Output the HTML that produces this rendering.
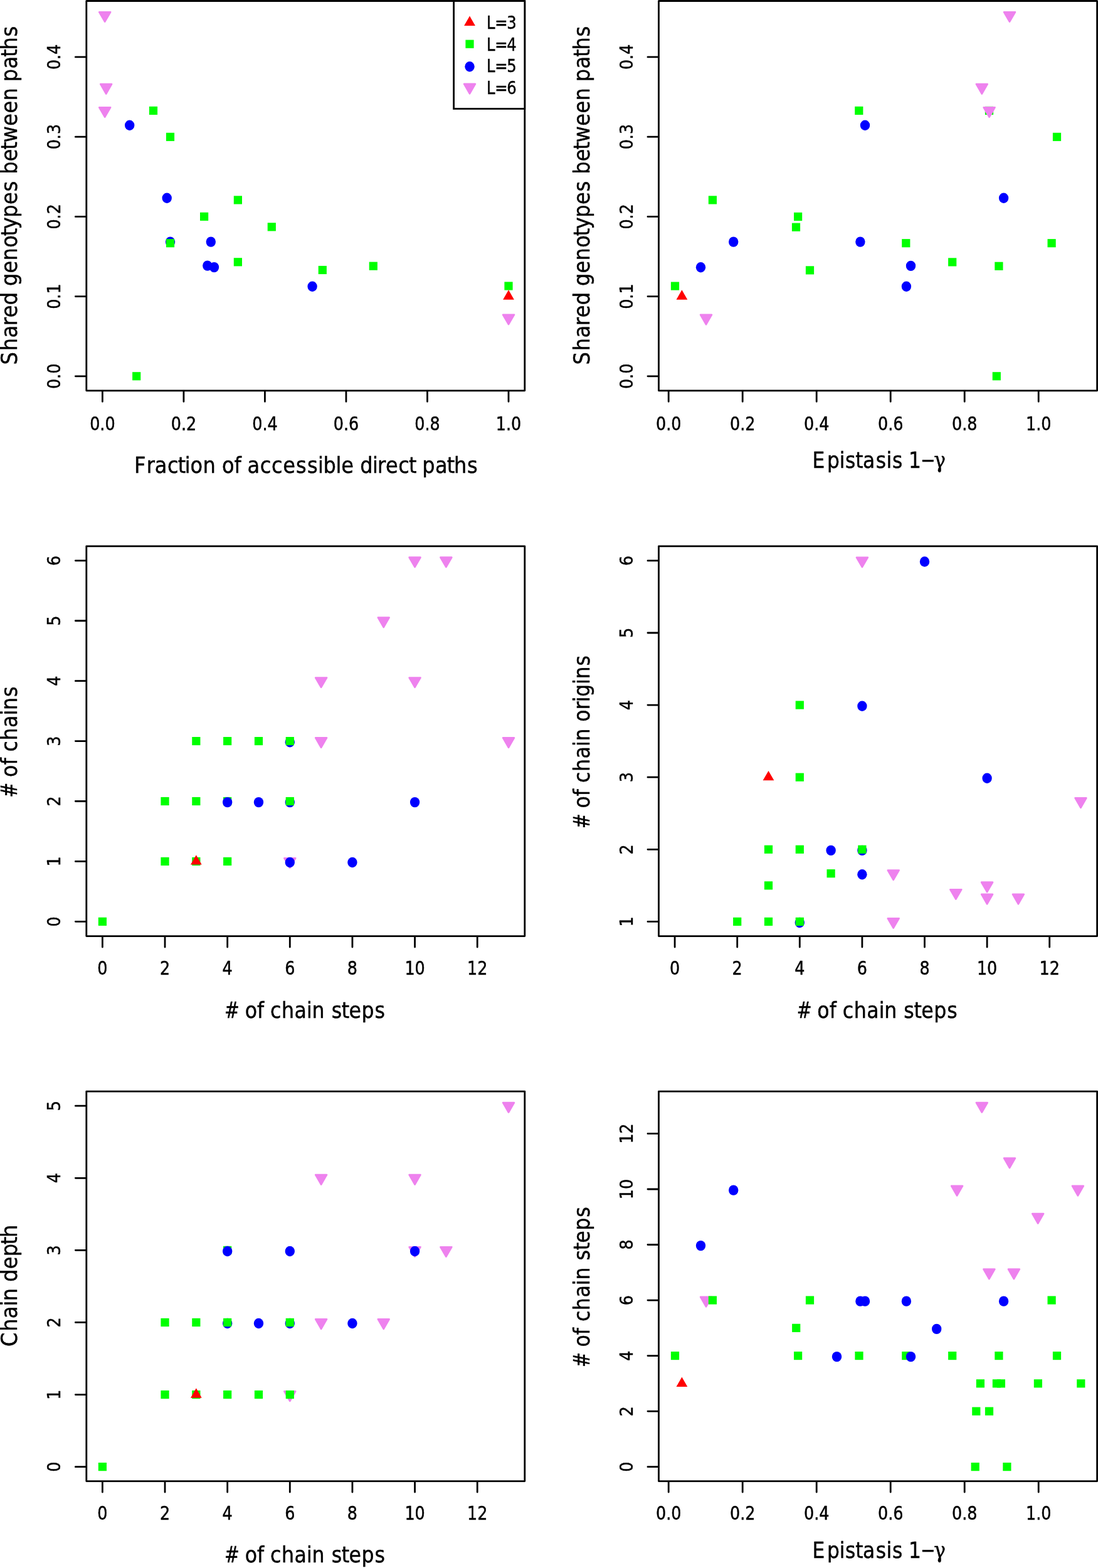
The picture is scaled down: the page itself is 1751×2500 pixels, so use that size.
<!DOCTYPE html>
<html lang="en">
<head>
<meta charset="utf-8">
<title>Figure</title>
<style>
html,body{margin:0;padding:0;background:#fff;}
body{width:1751px;height:2500px;overflow:hidden;}
svg{display:block;}
text{font-family:"DejaVu Sans","Liberation Sans",sans-serif;fill:#000;stroke:#000;stroke-width:0.5px;stroke-linejoin:round;}
.g{font-family:"DejaVu Serif","Liberation Serif",serif;}
.c{font-family:"DejaVu Sans Condensed","DejaVu Sans","Liberation Sans",sans-serif;font-stretch:condensed;}
.ln{fill:none;stroke:#000;stroke-width:2.8;stroke-linecap:round;stroke-linejoin:round;}
.lg{fill:#fff;stroke:#000;stroke-width:2.8;}
.g4{fill:#00ff00;}
.b5{fill:#0000ff;}
.r3{fill:#ff0000;}
.v6{fill:#ee82ee;stroke:#ee82ee;stroke-width:2.7;stroke-linejoin:round;}
</style>
</head>
<body>
<svg width="1751" height="2500" viewBox="0 0 1751 2500">
<rect x="0" y="0" width="1751" height="2500" fill="#fff"/>
<g>
<polygon class="v6" points="167.2,34.66 176.09,19.27 158.31,19.27"/>
<polygon class="v6" points="169.2,149.56 178.09,134.17 160.31,134.17"/>
<polygon class="v6" points="167.2,186.66 176.09,171.27 158.31,171.27"/>
<ellipse class="b5" cx="206.7" cy="199.8" rx="7.7" ry="8.2"/>
<ellipse class="b5" cx="266.2" cy="315.7" rx="7.7" ry="8.2"/>
<ellipse class="b5" cx="271.5" cy="385.6" rx="7.7" ry="8.2"/>
<ellipse class="b5" cx="336.3" cy="385.6" rx="7.7" ry="8.2"/>
<ellipse class="b5" cx="498.1" cy="456.7" rx="7.7" ry="8.2"/>
<ellipse class="b5" cx="330.8" cy="423.6" rx="7.7" ry="8.2"/>
<ellipse class="b5" cx="341.5" cy="426.1" rx="7.7" ry="8.2"/>
<rect class="g4" x="237.9" y="169.8" width="13.2" height="13.2"/>
<rect class="g4" x="264.9" y="211.7" width="13.2" height="13.2"/>
<rect class="g4" x="372.8" y="312.3" width="13.2" height="13.2"/>
<rect class="g4" x="319" y="338.7" width="13.2" height="13.2"/>
<rect class="g4" x="264.9" y="381.1" width="13.2" height="13.2"/>
<rect class="g4" x="426.7" y="355.2" width="13.2" height="13.2"/>
<rect class="g4" x="507.7" y="423.9" width="13.2" height="13.2"/>
<rect class="g4" x="588.7" y="417.6" width="13.2" height="13.2"/>
<rect class="g4" x="804.4" y="449.4" width="13.2" height="13.2"/>
<rect class="g4" x="211.1" y="593.2" width="13.2" height="13.2"/>
<rect class="g4" x="372.8" y="411.2" width="13.2" height="13.2"/>
<polygon class="r3" points="811,462.24 819.89,477.63 802.11,477.63"/>
<polygon class="v6" points="811,517.16 819.89,501.77 802.11,501.77"/>
<path class="ln" d="M163.4 624.25V640.35M292.92 624.25V640.35M422.44 624.25V640.35M551.96 624.25V640.35M681.48 624.25V640.35M811 624.25V640.35M136.4 599.86H120.3M136.4 472.62H120.3M136.4 345.38H120.3M136.4 218.14H120.3M136.4 90.9H120.3"/>
<path class="ln" d="M137.8 1.55H836.8V622.85H137.8Z"/>
<rect x="137.8" y="0" width="699" height="1.5"/>
<text transform="translate(163.4 685.85) scale(0.8741 1.04)" font-size="29.1" x="-23.14 -4.63 4.63" y="0">0.0</text>
<text transform="translate(292.92 685.85) scale(0.8741 1.04)" font-size="29.1" x="-23.14 -4.63 4.63" y="0">0.2</text>
<text transform="translate(422.44 685.85) scale(0.8741 1.04)" font-size="29.1" x="-23.14 -4.63 4.63" y="0">0.4</text>
<text transform="translate(551.96 685.85) scale(0.8741 1.04)" font-size="29.1" x="-23.14 -4.63 4.63" y="0">0.6</text>
<text transform="translate(681.48 685.85) scale(0.8741 1.04)" font-size="29.1" x="-23.14 -4.63 4.63" y="0">0.8</text>
<text transform="translate(811 685.85) scale(0.8741 1.04)" font-size="29.1" x="-23.14 -4.63 4.63" y="0">1.0</text>
<text transform="translate(96.25 599.86) rotate(-90) scale(0.8741 1)" font-size="29.1" x="-23.14 -4.63 4.63" y="0">0.0</text>
<text transform="translate(96.25 472.62) rotate(-90) scale(0.8741 1)" font-size="29.1" x="-23.14 -4.63 4.63" y="0">0.1</text>
<text transform="translate(96.25 345.38) rotate(-90) scale(0.8741 1)" font-size="29.1" x="-23.14 -4.63 4.63" y="0">0.2</text>
<text transform="translate(96.25 218.14) rotate(-90) scale(0.8741 1)" font-size="29.1" x="-23.14 -4.63 4.63" y="0">0.3</text>
<text transform="translate(96.25 90.9) rotate(-90) scale(0.8741 1)" font-size="29.1" x="-23.14 -4.63 4.63" y="0">0.4</text>
<text transform="translate(487.3 753.85) scale(0.8794 0.975)" font-size="36.4" x="-310.71 -288.19 -273.46 -250.46 -231.49 -219.06 -209.03 -186.41 -163.4 -151.49 -129.5 -117.38 -105.49 -82.48 -61.79 -41.12 -17.55 3.15 22.52 32.13 54.74 64.7 87.38 98.87 121.47 130.54 145.22 168.27 187.24 200.09 211.59 235.01 256.28 269.14 293.05" y="0">Fraction of accessible direct paths</text>
<text transform="translate(27 312.2) rotate(-90) scale(0.8816 0.96)" font-size="36.4" x="-305.38 -280.11 -256.77 -234.74 -220.1 -197.49 -174.51 -163.06 -139.74 -117.12 -93.75 -72.54 -60.11 -39.09 -15.77 7.74 27.5 38.95 62.27 83.55 96.44 126.52 149.48 172.11 195.07 206.52 229.89 251.12 263.94 287.79" y="0">Shared genotypes between paths</text>
</g>
<g>
<rect class="lg" x="723.6" y="1.55" width="113.2" height="171.85"/>
<polygon class="r3" points="749,25.54 757.89,40.93 740.11,40.93"/>
<text transform="translate(774.7 46.4) scale(0.8351 1)" font-size="29.1" x="1.58 17.36 40.16" y="0">L=3</text>
<rect class="g4" x="742.4" y="63.6" width="13.2" height="13.2"/>
<text transform="translate(774.7 80.8) scale(0.8351 1)" font-size="29.1" x="1.58 17.36 40.16" y="0">L=4</text>
<ellipse class="b5" cx="749" cy="106.2" rx="7.7" ry="8.2"/>
<text transform="translate(774.7 115.2) scale(0.8351 1)" font-size="29.1" x="1.58 17.36 40.16" y="0">L=5</text>
<polygon class="v6" points="749,149.26 757.89,133.87 740.11,133.87"/>
<text transform="translate(774.7 149.6) scale(0.8351 1)" font-size="29.1" x="1.58 17.36 40.16" y="0">L=6</text>
</g>
<g>
<rect class="g4" x="1363.2" y="169.8" width="13.2" height="13.2"/>
<rect class="g4" x="1129.8" y="312.3" width="13.2" height="13.2"/>
<rect class="g4" x="1266" y="338.8" width="13.2" height="13.2"/>
<rect class="g4" x="1262.9" y="355.6" width="13.2" height="13.2"/>
<rect class="g4" x="1438.2" y="381.1" width="13.2" height="13.2"/>
<rect class="g4" x="1670.5" y="381.1" width="13.2" height="13.2"/>
<rect class="g4" x="1678.9" y="211.7" width="13.2" height="13.2"/>
<rect class="g4" x="1570.9" y="169.8" width="13.2" height="13.2"/>
<rect class="g4" x="1069.9" y="449.5" width="13.2" height="13.2"/>
<rect class="g4" x="1284.9" y="424.3" width="13.2" height="13.2"/>
<rect class="g4" x="1512.1" y="411.3" width="13.2" height="13.2"/>
<rect class="g4" x="1586.3" y="417.7" width="13.2" height="13.2"/>
<rect class="g4" x="1582.7" y="593.2" width="13.2" height="13.2"/>
<ellipse class="b5" cx="1379.5" cy="199.8" rx="7.7" ry="8.2"/>
<ellipse class="b5" cx="1169.7" cy="385.6" rx="7.7" ry="8.2"/>
<ellipse class="b5" cx="1371.9" cy="385.6" rx="7.7" ry="8.2"/>
<ellipse class="b5" cx="1600.6" cy="315.7" rx="7.7" ry="8.2"/>
<ellipse class="b5" cx="1117.5" cy="426.3" rx="7.7" ry="8.2"/>
<ellipse class="b5" cx="1452.5" cy="423.9" rx="7.7" ry="8.2"/>
<ellipse class="b5" cx="1445.4" cy="456.7" rx="7.7" ry="8.2"/>
<polygon class="r3" points="1087.4,462.34 1096.29,477.73 1078.51,477.73"/>
<polygon class="v6" points="1610,34.66 1618.89,19.27 1601.11,19.27"/>
<polygon class="v6" points="1565.8,149.56 1574.69,134.17 1556.91,134.17"/>
<polygon class="v6" points="1577.6,186.66 1586.49,171.27 1568.71,171.27"/>
<polygon class="v6" points="1126,517.26 1134.89,501.87 1117.11,501.87"/>
<path class="ln" d="M1066.2 624.25V640.35M1184.2 624.25V640.35M1302.2 624.25V640.35M1420.2 624.25V640.35M1538.2 624.25V640.35M1656.2 624.25V640.35M1049.06 599.86H1032.96M1049.06 472.62H1032.96M1049.06 345.38H1032.96M1049.06 218.14H1032.96M1049.06 90.9H1032.96"/>
<path class="ln" d="M1050.46 1.55H1749.6V622.85H1050.46Z"/>
<rect x="1050.46" y="0" width="699.14" height="1.5"/>
<text transform="translate(1066.2 685.85) scale(0.8741 1.04)" font-size="29.1" x="-23.14 -4.63 4.63" y="0">0.0</text>
<text transform="translate(1184.2 685.85) scale(0.8741 1.04)" font-size="29.1" x="-23.14 -4.63 4.63" y="0">0.2</text>
<text transform="translate(1302.2 685.85) scale(0.8741 1.04)" font-size="29.1" x="-23.14 -4.63 4.63" y="0">0.4</text>
<text transform="translate(1420.2 685.85) scale(0.8741 1.04)" font-size="29.1" x="-23.14 -4.63 4.63" y="0">0.6</text>
<text transform="translate(1538.2 685.85) scale(0.8741 1.04)" font-size="29.1" x="-23.14 -4.63 4.63" y="0">0.8</text>
<text transform="translate(1656.2 685.85) scale(0.8741 1.04)" font-size="29.1" x="-23.14 -4.63 4.63" y="0">1.0</text>
<text transform="translate(1008.71 599.86) rotate(-90) scale(0.8741 1)" font-size="29.1" x="-23.14 -4.63 4.63" y="0">0.0</text>
<text transform="translate(1008.71 472.62) rotate(-90) scale(0.8741 1)" font-size="29.1" x="-23.14 -4.63 4.63" y="0">0.1</text>
<text transform="translate(1008.71 345.38) rotate(-90) scale(0.8741 1)" font-size="29.1" x="-23.14 -4.63 4.63" y="0">0.2</text>
<text transform="translate(1008.71 218.14) rotate(-90) scale(0.8741 1)" font-size="29.1" x="-23.14 -4.63 4.63" y="0">0.3</text>
<text transform="translate(1008.71 90.9) rotate(-90) scale(0.8741 1)" font-size="29.1" x="-23.14 -4.63 4.63" y="0">0.4</text>
<text transform="translate(1400.03 746.3) scale(0.8603 0.975)" font-size="36.4" x="-121.39 -94.17 -71.21 -60.36 -41.56 -27.93 -3.92 15.79 26.64 46.79 56.9 79.41 103.73" y="0">Epistasis 1<tspan class="c">−</tspan><tspan class="g">γ</tspan></text>
<text transform="translate(940.16 312.2) rotate(-90) scale(0.8816 0.96)" font-size="36.4" x="-305.38 -280.11 -256.77 -234.74 -220.1 -197.49 -174.51 -163.06 -139.74 -117.12 -93.75 -72.54 -60.11 -39.09 -15.77 7.74 27.5 38.95 62.27 83.55 96.44 126.52 149.48 172.11 195.07 206.52 229.89 251.12 263.94 287.79" y="0">Shared genotypes between paths</text>
</g>
<g>
<polygon class="v6" points="462.3,1383.69 471.19,1368.29 453.41,1368.29"/>
<polygon class="v6" points="512.12,1191.85 521.01,1176.45 503.23,1176.45"/>
<polygon class="v6" points="512.12,1095.93 521.01,1080.53 503.23,1080.53"/>
<polygon class="v6" points="611.75,1000.01 620.64,984.62 602.86,984.62"/>
<polygon class="v6" points="661.57,1095.93 670.46,1080.53 652.68,1080.53"/>
<polygon class="v6" points="661.57,904.09 670.46,888.7 652.68,888.7"/>
<polygon class="v6" points="711.38,904.09 720.27,888.7 702.49,888.7"/>
<polygon class="v6" points="811.02,1191.85 819.91,1176.45 802.13,1176.45"/>
<ellipse class="b5" cx="462.3" cy="1183.18" rx="7.7" ry="8.2"/>
<ellipse class="b5" cx="462.3" cy="1279.1" rx="7.7" ry="8.2"/>
<ellipse class="b5" cx="412.48" cy="1279.1" rx="7.7" ry="8.2"/>
<ellipse class="b5" cx="561.93" cy="1375.02" rx="7.7" ry="8.2"/>
<ellipse class="b5" cx="661.57" cy="1279.1" rx="7.7" ry="8.2"/>
<rect class="g4" x="156.8" y="1462.74" width="13.2" height="13.2"/>
<rect class="g4" x="256.43" y="1366.82" width="13.2" height="13.2"/>
<rect class="g4" x="306.25" y="1366.82" width="13.2" height="13.2"/>
<rect class="g4" x="356.07" y="1366.82" width="13.2" height="13.2"/>
<rect class="g4" x="256.43" y="1270.9" width="13.2" height="13.2"/>
<rect class="g4" x="306.25" y="1270.9" width="13.2" height="13.2"/>
<rect class="g4" x="356.07" y="1270.9" width="13.2" height="13.2"/>
<rect class="g4" x="455.7" y="1270.9" width="13.2" height="13.2"/>
<rect class="g4" x="306.25" y="1174.99" width="13.2" height="13.2"/>
<rect class="g4" x="356.07" y="1174.99" width="13.2" height="13.2"/>
<rect class="g4" x="405.88" y="1174.99" width="13.2" height="13.2"/>
<rect class="g4" x="455.7" y="1174.99" width="13.2" height="13.2"/>
<ellipse class="b5" cx="362.67" cy="1279.1" rx="7.7" ry="8.2"/>
<ellipse class="b5" cx="462.3" cy="1375.02" rx="7.7" ry="8.2"/>
<polygon class="r3" points="312.85,1363.16 321.74,1378.55 303.96,1378.55"/>
<path class="ln" d="M163.4 1493.97V1510.07M263.03 1493.97V1510.07M362.67 1493.97V1510.07M462.3 1493.97V1510.07M561.93 1493.97V1510.07M661.57 1493.97V1510.07M761.2 1493.97V1510.07M136.4 1469.34H120.3M136.4 1373.42H120.3M136.4 1277.5H120.3M136.4 1181.59H120.3M136.4 1085.67H120.3M136.4 989.75H120.3M136.4 893.83H120.3"/>
<path class="ln" d="M137.8 870.84H836.8V1492.57H137.8Z"/>
<text transform="translate(163.4 1554.17) scale(0.8741 1.04)" font-size="29.1" x="-9.26" y="0">0</text>
<text transform="translate(263.03 1554.17) scale(0.8741 1.04)" font-size="29.1" x="-9.26" y="0">2</text>
<text transform="translate(362.67 1554.17) scale(0.8741 1.04)" font-size="29.1" x="-9.26" y="0">4</text>
<text transform="translate(462.3 1554.17) scale(0.8741 1.04)" font-size="29.1" x="-9.26" y="0">6</text>
<text transform="translate(561.93 1554.17) scale(0.8741 1.04)" font-size="29.1" x="-9.26" y="0">8</text>
<text transform="translate(661.57 1554.17) scale(0.8741 1.04)" font-size="29.1" x="-18.51 0" y="0">10</text>
<text transform="translate(761.2 1554.17) scale(0.8741 1.04)" font-size="29.1" x="-18.51 0" y="0">12</text>
<text transform="translate(96.25 1469.34) rotate(-90) scale(0.8741 1)" font-size="29.1" x="-9.26" y="0">0</text>
<text transform="translate(96.25 1373.42) rotate(-90) scale(0.8741 1)" font-size="29.1" x="-9.26" y="0">1</text>
<text transform="translate(96.25 1277.5) rotate(-90) scale(0.8741 1)" font-size="29.1" x="-9.26" y="0">2</text>
<text transform="translate(96.25 1181.59) rotate(-90) scale(0.8741 1)" font-size="29.1" x="-9.26" y="0">3</text>
<text transform="translate(96.25 1085.67) rotate(-90) scale(0.8741 1)" font-size="29.1" x="-9.26" y="0">4</text>
<text transform="translate(96.25 989.75) rotate(-90) scale(0.8741 1)" font-size="29.1" x="-9.26" y="0">5</text>
<text transform="translate(96.25 893.83) rotate(-90) scale(0.8741 1)" font-size="29.1" x="-9.26" y="0">6</text>
<text transform="translate(487.3 1622.62) scale(0.8686 0.975)" font-size="36.4" x="-148.84 -123.42 -111.3 -89.09 -76.83 -64.75 -44.15 -20.46 1.94 11.77 35 47.6 66.24 79.65 102.61 126.81" y="0"><tspan class="c">#</tspan> of chain steps</text>
<text transform="translate(27 1181.7) rotate(-90) scale(0.8663 0.96)" font-size="36.4" x="-103.65 -78.19 -66.02 -43.77 -31.47 -19.35 1.31 25.06 47.51 57.38 81.62" y="0"><tspan class="c">#</tspan> of chains</text>
</g>
<g>
<ellipse class="b5" cx="1275.3" cy="1471" rx="7.7" ry="8.2"/>
<ellipse class="b5" cx="1374.9" cy="1355.9" rx="7.7" ry="8.2"/>
<rect class="g4" x="1169.1" y="1462.8" width="13.2" height="13.2"/>
<rect class="g4" x="1218.9" y="1462.8" width="13.2" height="13.2"/>
<rect class="g4" x="1268.7" y="1462.8" width="13.2" height="13.2"/>
<rect class="g4" x="1218.9" y="1405.25" width="13.2" height="13.2"/>
<rect class="g4" x="1318.5" y="1386.07" width="13.2" height="13.2"/>
<rect class="g4" x="1218.9" y="1347.7" width="13.2" height="13.2"/>
<rect class="g4" x="1268.7" y="1347.7" width="13.2" height="13.2"/>
<rect class="g4" x="1368.3" y="1347.7" width="13.2" height="13.2"/>
<rect class="g4" x="1268.7" y="1232.6" width="13.2" height="13.2"/>
<rect class="g4" x="1268.7" y="1117.5" width="13.2" height="13.2"/>
<ellipse class="b5" cx="1325.1" cy="1355.9" rx="7.7" ry="8.2"/>
<ellipse class="b5" cx="1374.9" cy="1394.27" rx="7.7" ry="8.2"/>
<ellipse class="b5" cx="1374.9" cy="1125.7" rx="7.7" ry="8.2"/>
<ellipse class="b5" cx="1574.1" cy="1240.8" rx="7.7" ry="8.2"/>
<ellipse class="b5" cx="1474.5" cy="895.5" rx="7.7" ry="8.2"/>
<polygon class="r3" points="1225.5,1228.94 1234.39,1244.33 1216.61,1244.33"/>
<polygon class="v6" points="1374.9,904.16 1383.79,888.77 1366.01,888.77"/>
<polygon class="v6" points="1723.5,1287.83 1732.39,1272.43 1714.61,1272.43"/>
<polygon class="v6" points="1424.7,1402.93 1433.59,1387.53 1415.81,1387.53"/>
<polygon class="v6" points="1574.1,1422.11 1582.99,1406.72 1565.21,1406.72"/>
<polygon class="v6" points="1524.3,1433.62 1533.19,1418.23 1515.41,1418.23"/>
<polygon class="v6" points="1574.1,1441.3 1582.99,1425.9 1565.21,1425.9"/>
<polygon class="v6" points="1623.9,1441.3 1632.79,1425.9 1615.01,1425.9"/>
<polygon class="v6" points="1424.7,1479.66 1433.59,1464.27 1415.81,1464.27"/>
<path class="ln" d="M1076.1 1493.97V1510.07M1175.7 1493.97V1510.07M1275.3 1493.97V1510.07M1374.9 1493.97V1510.07M1474.5 1493.97V1510.07M1574.1 1493.97V1510.07M1673.7 1493.97V1510.07M1049.06 1469.4H1032.96M1049.06 1354.3H1032.96M1049.06 1239.2H1032.96M1049.06 1124.1H1032.96M1049.06 1009H1032.96M1049.06 893.9H1032.96"/>
<path class="ln" d="M1050.46 870.84H1749.6V1492.57H1050.46Z"/>
<text transform="translate(1076.1 1554.17) scale(0.8741 1.04)" font-size="29.1" x="-9.26" y="0">0</text>
<text transform="translate(1175.7 1554.17) scale(0.8741 1.04)" font-size="29.1" x="-9.26" y="0">2</text>
<text transform="translate(1275.3 1554.17) scale(0.8741 1.04)" font-size="29.1" x="-9.26" y="0">4</text>
<text transform="translate(1374.9 1554.17) scale(0.8741 1.04)" font-size="29.1" x="-9.26" y="0">6</text>
<text transform="translate(1474.5 1554.17) scale(0.8741 1.04)" font-size="29.1" x="-9.26" y="0">8</text>
<text transform="translate(1574.1 1554.17) scale(0.8741 1.04)" font-size="29.1" x="-18.51 0" y="0">10</text>
<text transform="translate(1673.7 1554.17) scale(0.8741 1.04)" font-size="29.1" x="-18.51 0" y="0">12</text>
<text transform="translate(1008.71 1469.4) rotate(-90) scale(0.8741 1)" font-size="29.1" x="-9.26" y="0">1</text>
<text transform="translate(1008.71 1354.3) rotate(-90) scale(0.8741 1)" font-size="29.1" x="-9.26" y="0">2</text>
<text transform="translate(1008.71 1239.2) rotate(-90) scale(0.8741 1)" font-size="29.1" x="-9.26" y="0">3</text>
<text transform="translate(1008.71 1124.1) rotate(-90) scale(0.8741 1)" font-size="29.1" x="-9.26" y="0">4</text>
<text transform="translate(1008.71 1009) rotate(-90) scale(0.8741 1)" font-size="29.1" x="-9.26" y="0">5</text>
<text transform="translate(1008.71 893.9) rotate(-90) scale(0.8741 1)" font-size="29.1" x="-9.26" y="0">6</text>
<text transform="translate(1400.03 1622.62) scale(0.8686 0.975)" font-size="36.4" x="-148.84 -123.42 -111.3 -89.09 -76.83 -64.75 -44.15 -20.46 1.94 11.77 35 47.6 66.24 79.65 102.61 126.81" y="0"><tspan class="c">#</tspan> of chain steps</text>
<text transform="translate(940.16 1181.7) rotate(-90) scale(0.8642 0.96)" font-size="36.4" x="-161.23 -135.72 -123.51 -101.22 -88.89 -76.73 -56.02 -32.21 -9.73 0.19 23.5 35.72 58.09 72.21 82.11 104.99 114.91 139.2" y="0"><tspan class="c">#</tspan> of chain origins</text>
</g>
<g>
<polygon class="v6" points="462.3,2233.81 471.19,2218.41 453.41,2218.41"/>
<polygon class="v6" points="661.57,2003.63 670.46,1988.23 652.68,1988.23"/>
<ellipse class="b5" cx="362.67" cy="2110.05" rx="7.7" ry="8.2"/>
<ellipse class="b5" cx="462.3" cy="2110.05" rx="7.7" ry="8.2"/>
<rect class="g4" x="156.8" y="2332.03" width="13.2" height="13.2"/>
<rect class="g4" x="256.43" y="2216.94" width="13.2" height="13.2"/>
<rect class="g4" x="306.25" y="2216.94" width="13.2" height="13.2"/>
<rect class="g4" x="356.07" y="2216.94" width="13.2" height="13.2"/>
<rect class="g4" x="405.88" y="2216.94" width="13.2" height="13.2"/>
<rect class="g4" x="455.7" y="2216.94" width="13.2" height="13.2"/>
<rect class="g4" x="256.43" y="2101.85" width="13.2" height="13.2"/>
<rect class="g4" x="306.25" y="2101.85" width="13.2" height="13.2"/>
<rect class="g4" x="356.07" y="2101.85" width="13.2" height="13.2"/>
<rect class="g4" x="455.7" y="2101.85" width="13.2" height="13.2"/>
<rect class="g4" x="356.07" y="1986.77" width="13.2" height="13.2"/>
<ellipse class="b5" cx="412.48" cy="2110.05" rx="7.7" ry="8.2"/>
<ellipse class="b5" cx="561.93" cy="2110.05" rx="7.7" ry="8.2"/>
<ellipse class="b5" cx="362.67" cy="1994.97" rx="7.7" ry="8.2"/>
<ellipse class="b5" cx="462.3" cy="1994.97" rx="7.7" ry="8.2"/>
<ellipse class="b5" cx="661.57" cy="1994.97" rx="7.7" ry="8.2"/>
<polygon class="r3" points="312.85,2213.28 321.74,2228.67 303.96,2228.67"/>
<polygon class="v6" points="512.12,2118.72 521.01,2103.32 503.23,2103.32"/>
<polygon class="v6" points="611.75,2118.72 620.64,2103.32 602.86,2103.32"/>
<polygon class="v6" points="512.12,1888.54 521.01,1873.15 503.23,1873.15"/>
<polygon class="v6" points="661.57,1888.54 670.46,1873.15 652.68,1873.15"/>
<polygon class="v6" points="711.38,2003.63 720.27,1988.23 702.49,1988.23"/>
<polygon class="v6" points="811.02,1773.45 819.91,1758.06 802.13,1758.06"/>
<path class="ln" d="M163.4 2362.96V2379.06M263.03 2362.96V2379.06M362.67 2362.96V2379.06M462.3 2362.96V2379.06M561.93 2362.96V2379.06M661.57 2362.96V2379.06M761.2 2362.96V2379.06M136.4 2338.63H120.3M136.4 2223.54H120.3M136.4 2108.45H120.3M136.4 1993.37H120.3M136.4 1878.28H120.3M136.4 1763.19H120.3"/>
<path class="ln" d="M137.8 1740.09H836.8V2361.56H137.8Z"/>
<text transform="translate(163.4 2423.46) scale(0.8741 1.04)" font-size="29.1" x="-9.26" y="0">0</text>
<text transform="translate(263.03 2423.46) scale(0.8741 1.04)" font-size="29.1" x="-9.26" y="0">2</text>
<text transform="translate(362.67 2423.46) scale(0.8741 1.04)" font-size="29.1" x="-9.26" y="0">4</text>
<text transform="translate(462.3 2423.46) scale(0.8741 1.04)" font-size="29.1" x="-9.26" y="0">6</text>
<text transform="translate(561.93 2423.46) scale(0.8741 1.04)" font-size="29.1" x="-9.26" y="0">8</text>
<text transform="translate(661.57 2423.46) scale(0.8741 1.04)" font-size="29.1" x="-18.51 0" y="0">10</text>
<text transform="translate(761.2 2423.46) scale(0.8741 1.04)" font-size="29.1" x="-18.51 0" y="0">12</text>
<text transform="translate(96.25 2338.63) rotate(-90) scale(0.8741 1)" font-size="29.1" x="-9.26" y="0">0</text>
<text transform="translate(96.25 2223.54) rotate(-90) scale(0.8741 1)" font-size="29.1" x="-9.26" y="0">1</text>
<text transform="translate(96.25 2108.45) rotate(-90) scale(0.8741 1)" font-size="29.1" x="-9.26" y="0">2</text>
<text transform="translate(96.25 1993.37) rotate(-90) scale(0.8741 1)" font-size="29.1" x="-9.26" y="0">3</text>
<text transform="translate(96.25 1878.28) rotate(-90) scale(0.8741 1)" font-size="29.1" x="-9.26" y="0">4</text>
<text transform="translate(96.25 1763.19) rotate(-90) scale(0.8741 1)" font-size="29.1" x="-9.26" y="0">5</text>
<text transform="translate(487.3 2491.46) scale(0.8686 0.975)" font-size="36.4" x="-148.84 -123.42 -111.3 -89.09 -76.83 -64.75 -44.15 -20.46 1.94 11.77 35 47.6 66.24 79.65 102.61 126.81" y="0"><tspan class="c">#</tspan> of chain steps</text>
<text transform="translate(27 2050.82) rotate(-90) scale(0.8824 0.96)" font-size="36.4" x="-109.05 -81.51 -58.18 -36.04 -26.46 -3.51 7.92 31.22 53.81 75.43 88.23" y="0">Chain depth</text>
</g>
<g>
<polygon class="v6" points="1126,2083.31 1134.89,2067.91 1117.11,2067.91"/>
<rect class="g4" x="1069.9" y="2154.97" width="13.2" height="13.2"/>
<rect class="g4" x="1129.8" y="2066.44" width="13.2" height="13.2"/>
<rect class="g4" x="1263.1" y="2110.71" width="13.2" height="13.2"/>
<rect class="g4" x="1266" y="2154.97" width="13.2" height="13.2"/>
<rect class="g4" x="1284.9" y="2066.44" width="13.2" height="13.2"/>
<rect class="g4" x="1363.4" y="2154.97" width="13.2" height="13.2"/>
<rect class="g4" x="1438.2" y="2154.97" width="13.2" height="13.2"/>
<rect class="g4" x="1512.1" y="2154.97" width="13.2" height="13.2"/>
<rect class="g4" x="1586.3" y="2154.97" width="13.2" height="13.2"/>
<rect class="g4" x="1678.9" y="2154.97" width="13.2" height="13.2"/>
<rect class="g4" x="1670.5" y="2066.44" width="13.2" height="13.2"/>
<rect class="g4" x="1556.8" y="2199.24" width="13.2" height="13.2"/>
<rect class="g4" x="1582.8" y="2199.24" width="13.2" height="13.2"/>
<rect class="g4" x="1589.8" y="2199.24" width="13.2" height="13.2"/>
<rect class="g4" x="1648.8" y="2199.24" width="13.2" height="13.2"/>
<rect class="g4" x="1717.2" y="2199.24" width="13.2" height="13.2"/>
<rect class="g4" x="1550.2" y="2243.5" width="13.2" height="13.2"/>
<rect class="g4" x="1570.9" y="2243.5" width="13.2" height="13.2"/>
<rect class="g4" x="1548.6" y="2332.03" width="13.2" height="13.2"/>
<rect class="g4" x="1599.3" y="2332.03" width="13.2" height="13.2"/>
<ellipse class="b5" cx="1117.5" cy="1986.11" rx="7.7" ry="8.2"/>
<ellipse class="b5" cx="1169.7" cy="1897.58" rx="7.7" ry="8.2"/>
<ellipse class="b5" cx="1371.9" cy="2074.64" rx="7.7" ry="8.2"/>
<ellipse class="b5" cx="1379.5" cy="2074.64" rx="7.7" ry="8.2"/>
<ellipse class="b5" cx="1445.4" cy="2074.64" rx="7.7" ry="8.2"/>
<ellipse class="b5" cx="1600.6" cy="2074.64" rx="7.7" ry="8.2"/>
<ellipse class="b5" cx="1334.5" cy="2163.17" rx="7.7" ry="8.2"/>
<ellipse class="b5" cx="1452.5" cy="2163.17" rx="7.7" ry="8.2"/>
<ellipse class="b5" cx="1493.7" cy="2118.91" rx="7.7" ry="8.2"/>
<polygon class="r3" points="1087.4,2195.57 1096.29,2210.97 1078.51,2210.97"/>
<polygon class="v6" points="1565.8,1773.45 1574.69,1758.06 1556.91,1758.06"/>
<polygon class="v6" points="1610,1861.98 1618.89,1846.59 1601.11,1846.59"/>
<polygon class="v6" points="1526.1,1906.25 1534.99,1890.85 1517.21,1890.85"/>
<polygon class="v6" points="1718.9,1906.25 1727.79,1890.85 1710.01,1890.85"/>
<polygon class="v6" points="1655.2,1950.51 1664.09,1935.12 1646.31,1935.12"/>
<polygon class="v6" points="1577.4,2039.04 1586.29,2023.65 1568.51,2023.65"/>
<polygon class="v6" points="1616.9,2039.04 1625.79,2023.65 1608.01,2023.65"/>
<path class="ln" d="M1066.2 2362.96V2379.06M1184.2 2362.96V2379.06M1302.2 2362.96V2379.06M1420.2 2362.96V2379.06M1538.2 2362.96V2379.06M1656.2 2362.96V2379.06M1049.06 2338.63H1032.96M1049.06 2250.1H1032.96M1049.06 2161.57H1032.96M1049.06 2073.04H1032.96M1049.06 1984.51H1032.96M1049.06 1895.98H1032.96M1049.06 1807.45H1032.96"/>
<path class="ln" d="M1050.46 1740.09H1749.6V2361.56H1050.46Z"/>
<text transform="translate(1066.2 2423.46) scale(0.8741 1.04)" font-size="29.1" x="-23.14 -4.63 4.63" y="0">0.0</text>
<text transform="translate(1184.2 2423.46) scale(0.8741 1.04)" font-size="29.1" x="-23.14 -4.63 4.63" y="0">0.2</text>
<text transform="translate(1302.2 2423.46) scale(0.8741 1.04)" font-size="29.1" x="-23.14 -4.63 4.63" y="0">0.4</text>
<text transform="translate(1420.2 2423.46) scale(0.8741 1.04)" font-size="29.1" x="-23.14 -4.63 4.63" y="0">0.6</text>
<text transform="translate(1538.2 2423.46) scale(0.8741 1.04)" font-size="29.1" x="-23.14 -4.63 4.63" y="0">0.8</text>
<text transform="translate(1656.2 2423.46) scale(0.8741 1.04)" font-size="29.1" x="-23.14 -4.63 4.63" y="0">1.0</text>
<text transform="translate(1008.71 2338.63) rotate(-90) scale(0.8741 1)" font-size="29.1" x="-9.26" y="0">0</text>
<text transform="translate(1008.71 2250.1) rotate(-90) scale(0.8741 1)" font-size="29.1" x="-9.26" y="0">2</text>
<text transform="translate(1008.71 2161.57) rotate(-90) scale(0.8741 1)" font-size="29.1" x="-9.26" y="0">4</text>
<text transform="translate(1008.71 2073.04) rotate(-90) scale(0.8741 1)" font-size="29.1" x="-9.26" y="0">6</text>
<text transform="translate(1008.71 1984.51) rotate(-90) scale(0.8741 1)" font-size="29.1" x="-9.26" y="0">8</text>
<text transform="translate(1008.71 1895.98) rotate(-90) scale(0.8741 1)" font-size="29.1" x="-18.51 0" y="0">10</text>
<text transform="translate(1008.71 1807.45) rotate(-90) scale(0.8741 1)" font-size="29.1" x="-18.51 0" y="0">12</text>
<text transform="translate(1400.03 2484.46) scale(0.8603 0.975)" font-size="36.4" x="-121.39 -94.17 -71.21 -60.36 -41.56 -27.93 -3.92 15.79 26.64 46.79 56.9 79.41 103.73" y="0">Epistasis 1<tspan class="c">−</tspan><tspan class="g">γ</tspan></text>
<text transform="translate(940.16 2050.82) rotate(-90) scale(0.8686 0.96)" font-size="36.4" x="-148.84 -123.42 -111.3 -89.09 -76.83 -64.75 -44.15 -20.46 1.94 11.77 35 47.6 66.24 79.65 102.61 126.81" y="0"><tspan class="c">#</tspan> of chain steps</text>
</g>
</svg>
</body>
</html>
